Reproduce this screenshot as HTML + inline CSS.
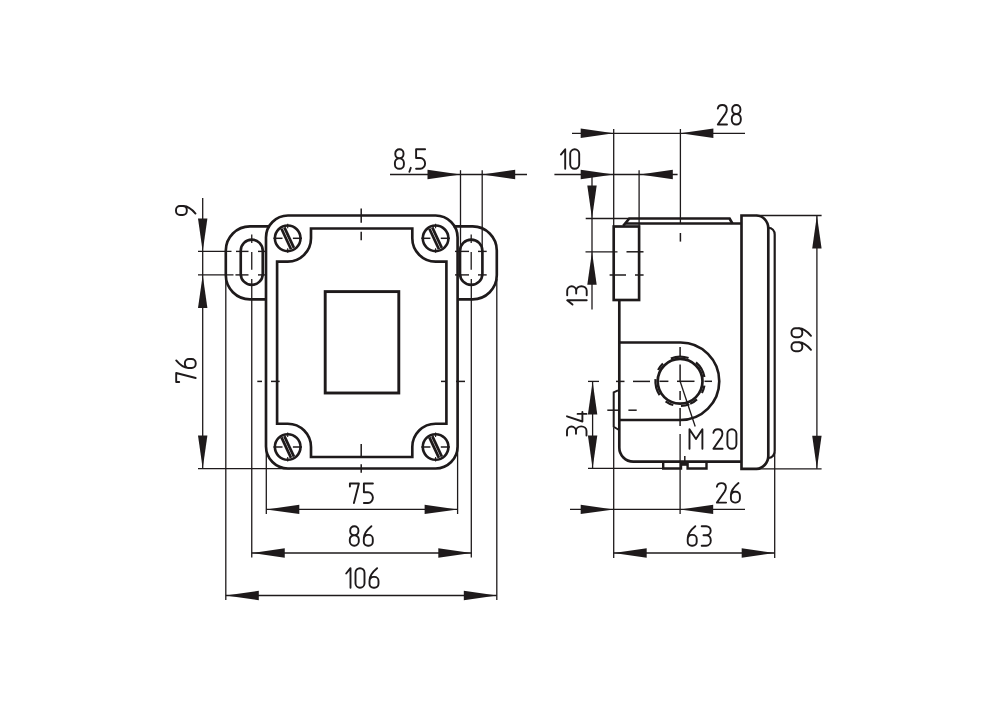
<!DOCTYPE html>
<html><head><meta charset="utf-8"><style>
html,body{margin:0;padding:0;background:#fff;}
body{width:1000px;height:701px;overflow:hidden;font-family:"Liberation Sans",sans-serif;}
svg{display:block;}
</style></head><body>
<svg width="1000" height="701" viewBox="0 0 1000 701">
<g fill="none" stroke="#1e1a1b" stroke-linecap="butt">
<rect x="266" y="215.5" width="191.6" height="253" rx="22" ry="22" stroke-width="2.65"/>
<path d="M277.1,261.6 L287.7,261.6 A23.3,23.3 0 0 0 311.0,238.3 L311.0,228.5 L412.3,228.5 L412.3,238.3 A23.3,23.3 0 0 0 435.6,261.6 L446.4,261.6 L446.4,423.7 L435.6,423.7 A23.3,23.3 0 0 0 412.3,447 L412.3,457 L311.0,457 L311.0,447 A23.3,23.3 0 0 0 287.7,423.7 L277.1,423.7 Z" stroke-width="2.65" />
<circle cx="287.7" cy="238.3" r="12.8" stroke-width="2.6"/>
<line x1="273.4" y1="238.3" x2="282.5" y2="238.3" stroke-width="1.5"/>
<line x1="292.9" y1="238.3" x2="302.0" y2="238.3" stroke-width="1.5"/>
<line x1="287.7" y1="223.8" x2="287.7" y2="228.3" stroke-width="1.1"/>
<line x1="287.7" y1="248.3" x2="287.7" y2="252.8" stroke-width="1.1"/>
<line x1="281.47" y1="228.73" x2="291.03" y2="249.22" stroke-width="2.7"/>
<line x1="284.37" y1="227.38" x2="293.93" y2="247.87" stroke-width="2.7"/>
<circle cx="435.6" cy="238.3" r="12.8" stroke-width="2.6"/>
<line x1="421.3" y1="238.3" x2="430.40000000000003" y2="238.3" stroke-width="1.5"/>
<line x1="440.8" y1="238.3" x2="449.90000000000003" y2="238.3" stroke-width="1.5"/>
<line x1="435.6" y1="223.8" x2="435.6" y2="228.3" stroke-width="1.1"/>
<line x1="435.6" y1="248.3" x2="435.6" y2="252.8" stroke-width="1.1"/>
<line x1="429.37" y1="228.73" x2="438.93" y2="249.22" stroke-width="2.7"/>
<line x1="432.27" y1="227.38" x2="441.83" y2="247.87" stroke-width="2.7"/>
<circle cx="287.7" cy="447" r="12.8" stroke-width="2.6"/>
<line x1="273.4" y1="447" x2="282.5" y2="447" stroke-width="1.5"/>
<line x1="292.9" y1="447" x2="302.0" y2="447" stroke-width="1.5"/>
<line x1="287.7" y1="432.5" x2="287.7" y2="437" stroke-width="1.1"/>
<line x1="287.7" y1="457" x2="287.7" y2="461.5" stroke-width="1.1"/>
<line x1="281.47" y1="437.43" x2="291.03" y2="457.92" stroke-width="2.7"/>
<line x1="284.37" y1="436.08" x2="293.93" y2="456.57" stroke-width="2.7"/>
<circle cx="435.6" cy="447" r="12.8" stroke-width="2.6"/>
<line x1="421.3" y1="447" x2="430.40000000000003" y2="447" stroke-width="1.5"/>
<line x1="440.8" y1="447" x2="449.90000000000003" y2="447" stroke-width="1.5"/>
<line x1="435.6" y1="432.5" x2="435.6" y2="437" stroke-width="1.1"/>
<line x1="435.6" y1="457" x2="435.6" y2="461.5" stroke-width="1.1"/>
<line x1="429.37" y1="437.43" x2="438.93" y2="457.92" stroke-width="2.7"/>
<line x1="432.27" y1="436.08" x2="441.83" y2="456.57" stroke-width="2.7"/>
<rect x="325.2" y="291.6" width="73.6" height="101.4" stroke-width="2.9"/>
<path d="M269.5,226.4 L250.0,226.4 A24.2,24.2 0 0 0 225.8,250.6 L225.8,275.1 A24.2,24.2 0 0 0 250.0,299.3 L266,299.3" stroke-width="2.65" />
<path d="M453.7,226.4 L472.6,226.4 A24.2,24.2 0 0 1 496.8,250.6 L496.8,275.1 A24.2,24.2 0 0 1 472.6,299.3 L457.2,299.3" stroke-width="2.65" />
<rect x="240.75" y="239.6" width="22" height="45.3" rx="11" ry="11" stroke-width="2.65"/>
<line x1="236.0" y1="251.4" x2="248.5" y2="251.4" stroke-width="1.4"/>
<line x1="258.0" y1="251.4" x2="265.0" y2="251.4" stroke-width="1.4"/>
<line x1="235.45" y1="274.9" x2="248.5" y2="274.9" stroke-width="1.4"/>
<line x1="258.0" y1="274.9" x2="265.0" y2="274.9" stroke-width="1.4"/>
<line x1="251.75" y1="234.4" x2="251.75" y2="243" stroke-width="1.3"/>
<line x1="251.75" y1="252.1" x2="251.75" y2="269.8" stroke-width="1.3"/>
<rect x="460.0" y="239.6" width="22.4" height="45.3" rx="11.2" ry="11.2" stroke-width="2.65"/>
<line x1="455.0" y1="251.4" x2="469.0" y2="251.4" stroke-width="1.4"/>
<line x1="478.0" y1="251.4" x2="486.7" y2="251.4" stroke-width="1.4"/>
<line x1="455.0" y1="274.9" x2="469.0" y2="274.9" stroke-width="1.4"/>
<line x1="478.0" y1="274.9" x2="486.7" y2="274.9" stroke-width="1.4"/>
<line x1="471.2" y1="234.4" x2="471.2" y2="243" stroke-width="1.3"/>
<line x1="471.2" y1="252.1" x2="471.2" y2="269.8" stroke-width="1.3"/>
<line x1="198" y1="251.4" x2="231.5" y2="251.4" stroke-width="1.3"/>
<line x1="198" y1="274.9" x2="233.5" y2="274.9" stroke-width="1.3"/>
<line x1="361.2" y1="208.6" x2="361.2" y2="222.7" stroke-width="1.5"/>
<line x1="361.2" y1="231.7" x2="361.2" y2="240.3" stroke-width="1.5"/>
<line x1="361.2" y1="443.9" x2="361.2" y2="457" stroke-width="1.5"/>
<line x1="361.2" y1="464.2" x2="361.2" y2="472.8" stroke-width="1.5"/>
<line x1="257.3" y1="381.4" x2="262" y2="381.4" stroke-width="1.5"/>
<line x1="271" y1="381.4" x2="279.7" y2="381.4" stroke-width="1.5"/>
<line x1="441" y1="381.4" x2="446" y2="381.4" stroke-width="1.5"/>
<line x1="456" y1="381.4" x2="465" y2="381.4" stroke-width="1.5"/>
<line x1="202.7" y1="198" x2="202.7" y2="468.6" stroke-width="1.3"/>
<polygon points="202.7,251.4 198.00,218.40 207.40,218.40" fill="#1e1a1b" stroke="none"/>
<polygon points="202.7,274.9 207.40,307.90 198.00,307.90" fill="#1e1a1b" stroke="none"/>
<polygon points="202.7,468.6 198.00,435.60 207.40,435.60" fill="#1e1a1b" stroke="none"/>
<line x1="198" y1="468.6" x2="290" y2="468.6" stroke-width="1.3"/>
<g transform="translate(175,216) rotate(-90)" stroke-width="1.9" stroke-linecap="round" stroke-linejoin="round"><path transform="translate(0,0)" d="M2.4,20.5 Q9.7,14.5 10,8.5 M10,7.8 A4,4 0 0 1 6,11.8 L5,11.8 A4,4 0 0 1 1,7.8 L1,5 A4,4 0 0 1 5,1 L6,1 A4,4 0 0 1 10,5 Z"/></g>
<g transform="translate(175.2,383) rotate(-90)" stroke-width="1.9" stroke-linecap="round" stroke-linejoin="round"><path transform="translate(0,0)" d="M1,4 L1,1 L10,1 L5,20.5"/><path transform="translate(14,0)" d="M8.6,1 Q1.3,7 1,13 M1,13.7 A4,4 0 0 1 5,9.7 L6,9.7 A4,4 0 0 1 10,13.7 L10,16.5 A4,4 0 0 1 6,20.5 L5,20.5 A4,4 0 0 1 1,16.5 Z"/></g>
<line x1="266.3" y1="447" x2="266.3" y2="514" stroke-width="1.3"/>
<line x1="457.6" y1="447" x2="457.6" y2="514" stroke-width="1.3"/>
<line x1="266.3" y1="509.4" x2="457.6" y2="509.4" stroke-width="1.3"/>
<polygon points="266.3,509.4 299.30,504.70 299.30,514.10" fill="#1e1a1b" stroke="none"/>
<polygon points="457.6,509.4 424.60,514.10 424.60,504.70" fill="#1e1a1b" stroke="none"/>
<g transform="translate(348.9,482.5)" stroke-width="1.9" stroke-linecap="round" stroke-linejoin="round"><path transform="translate(0,0)" d="M1,4 L1,1 L10,1 L5,20.5"/><path transform="translate(14,0)" d="M10,1 L1,1 L1,9.7 L5.2,9.7 A4.8,5.4 0 0 1 5.2,20.5 L1,20.5"/></g>
<line x1="251.75" y1="279" x2="251.75" y2="557.5" stroke-width="1.3"/>
<line x1="471.3" y1="279" x2="471.3" y2="557.5" stroke-width="1.3"/>
<line x1="251.75" y1="553" x2="471.3" y2="553" stroke-width="1.3"/>
<polygon points="251.75,553 284.75,548.30 284.75,557.70" fill="#1e1a1b" stroke="none"/>
<polygon points="471.3,553 438.30,557.70 438.30,548.30" fill="#1e1a1b" stroke="none"/>
<g transform="translate(348.8,525.2)" stroke-width="1.9" stroke-linecap="round" stroke-linejoin="round"><path transform="translate(0,0)" d="M1.4,5 A4,4 0 0 1 5.4,1 L5.6,1 A4,4 0 0 1 9.6,5 L9.6,6 A4,4 0 0 1 5.6,10 L5.4,10 A4,4 0 0 1 1.4,6 Z M1,14.4 A4.4,4.4 0 0 1 5.4,10 L5.6,10 A4.4,4.4 0 0 1 10,14.4 L10,16.1 A4.4,4.4 0 0 1 5.6,20.5 L5.4,20.5 A4.4,4.4 0 0 1 1,16.1 Z"/><path transform="translate(14,0)" d="M8.6,1 Q1.3,7 1,13 M1,13.7 A4,4 0 0 1 5,9.7 L6,9.7 A4,4 0 0 1 10,13.7 L10,16.5 A4,4 0 0 1 6,20.5 L5,20.5 A4,4 0 0 1 1,16.5 Z"/></g>
<line x1="225.8" y1="279" x2="225.8" y2="600" stroke-width="1.3"/>
<line x1="496.8" y1="279" x2="496.8" y2="600" stroke-width="1.3"/>
<line x1="225.8" y1="595.5" x2="496.8" y2="595.5" stroke-width="1.3"/>
<polygon points="225.8,595.5 258.80,590.80 258.80,600.20" fill="#1e1a1b" stroke="none"/>
<polygon points="496.8,595.5 463.80,600.20 463.80,590.80" fill="#1e1a1b" stroke="none"/>
<g transform="translate(340.5,567.2)" stroke-width="1.9" stroke-linecap="round" stroke-linejoin="round"><path transform="translate(0,0)" d="M5.7,6.3 L10,1 L10,20.5"/><path transform="translate(14,0)" d="M1,5.5 A4.5,4.5 0 0 1 10,5.5 L10,16 A4.5,4.5 0 0 1 1,16 Z"/><path transform="translate(28,0)" d="M8.6,1 Q1.3,7 1,13 M1,13.7 A4,4 0 0 1 5,9.7 L6,9.7 A4,4 0 0 1 10,13.7 L10,16.5 A4,4 0 0 1 6,20.5 L5,20.5 A4,4 0 0 1 1,16.5 Z"/></g>
<line x1="460.5" y1="170.2" x2="460.5" y2="252" stroke-width="1.3"/>
<line x1="482.2" y1="170.2" x2="482.2" y2="252" stroke-width="1.3"/>
<line x1="390" y1="174.5" x2="527" y2="174.5" stroke-width="1.3"/>
<polygon points="460.5,174.5 427.50,179.20 427.50,169.80" fill="#1e1a1b" stroke="none"/>
<polygon points="482.2,174.5 515.20,169.80 515.20,179.20" fill="#1e1a1b" stroke="none"/>
<g transform="translate(393.9,148.3)" stroke-width="1.9" stroke-linecap="round" stroke-linejoin="round"><path transform="translate(0,0)" d="M1.4,5 A4,4 0 0 1 5.4,1 L5.6,1 A4,4 0 0 1 9.6,5 L9.6,6 A4,4 0 0 1 5.6,10 L5.4,10 A4,4 0 0 1 1.4,6 Z M1,14.4 A4.4,4.4 0 0 1 5.4,10 L5.6,10 A4.4,4.4 0 0 1 10,14.4 L10,16.1 A4.4,4.4 0 0 1 5.6,20.5 L5.4,20.5 A4.4,4.4 0 0 1 1,16.1 Z"/><path transform="translate(14,0)" d="M2.9,19.5 L1.5,23.5"/><path transform="translate(21.2,0)" d="M10,1 L1,1 L1,9.7 L5.2,9.7 A4.8,5.4 0 0 1 5.2,20.5 L1,20.5"/></g>
<rect x="613.7" y="226.5" width="25.4" height="73.5" stroke-width="2.65"/>
<path d="M623.2,225.8 L629.3,218.5 L729.6,218.5 L732.4,223.5" stroke-width="2.65" />
<path d="M626,223.5 L741.5,223.5" stroke-width="2.65" />
<path d="M619.3,300 L619.3,447.5 A14,14 0 0 0 633.3,461.6 L741.5,461.6" stroke-width="2.65" />
<path d="M618,390.3 L613.7,392.4 L613.7,426.8 L619,430" stroke-width="2.0" />
<path d="M619.3,342.5 L680.6,342.5 A38.6,38.7 0 0 1 680.6,420 L619.3,420" stroke-width="2.65" />
<circle cx="680.1" cy="381.3" r="22.4" stroke-width="2.7"/>
<path d="M670.85,358.40 A24.7,24.7 0 0 1 688.55,358.09" stroke-width="2.2" />
<path d="M658.09,370.09 A24.7,24.7 0 0 1 662.94,363.53" stroke-width="2.2" />
<path d="M659.62,395.11 A24.7,24.7 0 0 1 655.49,379.15" stroke-width="2.2" />
<path d="M695.98,362.38 A24.7,24.7 0 0 1 704.42,377.01" stroke-width="2.2" />
<path d="M704.42,385.59 A24.7,24.7 0 0 1 701.91,392.90" stroke-width="2.2" />
<path d="M696.95,399.36 A24.7,24.7 0 0 1 690.15,403.86" stroke-width="2.2" />
<path d="M689.35,404.20 A24.7,24.7 0 0 1 680.96,405.98" stroke-width="2.2" />
<path d="M673.29,405.04 A24.7,24.7 0 0 1 665.58,401.28" stroke-width="2.2" />
<line x1="588" y1="381.4" x2="599" y2="381.4" stroke-width="1.3"/>
<line x1="616" y1="381.4" x2="624.5" y2="381.4" stroke-width="1.5"/>
<line x1="633" y1="381.4" x2="650" y2="381.4" stroke-width="1.5"/>
<line x1="659.4" y1="381.3" x2="668.4" y2="381.3" stroke-width="1.5"/>
<line x1="677" y1="381.3" x2="694.5" y2="381.3" stroke-width="1.5"/>
<line x1="704.5" y1="381.3" x2="712" y2="381.3" stroke-width="1.5"/>
<line x1="680.1" y1="347" x2="680.1" y2="356.5" stroke-width="1.5"/>
<line x1="680.1" y1="364.5" x2="680.1" y2="381.3" stroke-width="1.5"/>
<line x1="680.1" y1="391" x2="680.1" y2="400" stroke-width="1.5"/>
<line x1="680.1" y1="408" x2="680.1" y2="426" stroke-width="1.5"/>
<line x1="680.1" y1="434" x2="680.1" y2="514" stroke-width="1.3"/>
<line x1="607.3" y1="410.2" x2="619" y2="410.2" stroke-width="1.5"/>
<line x1="628.4" y1="410.2" x2="636.7" y2="410.2" stroke-width="1.5"/>
<line x1="680.1" y1="381.3" x2="695.2" y2="426.5" stroke-width="1.3"/>
<g transform="translate(688.3,428.3)" stroke-width="1.9" stroke-linecap="round" stroke-linejoin="round"><path transform="translate(0,0)" d="M1.2,20.5 L1.2,1 L7.65,10.8 L14.1,1 L14.1,20.5"/></g>
<g transform="translate(712.4,428.3)" stroke-width="1.9" stroke-linecap="round" stroke-linejoin="round"><path transform="translate(0,0)" d="M1,4.6 C1.4,2.3 3.2,1 5.5,1 C8.2,1 10,2.9 10,5.5 C10,7.1 9.4,8.3 8.6,9.6 L1,20.5 L10.2,20.5"/><path transform="translate(14,0)" d="M1,5.5 A4.5,4.5 0 0 1 10,5.5 L10,16 A4.5,4.5 0 0 1 1,16 Z"/></g>
<path d="M741.5,215.5 L756.5,215.5 C762.5,215.5 768.3,221 768.3,228.5 L768.3,456 C768.3,463 762.5,468.8 756.5,468.8 L741.5,468.8 Z" stroke-width="2.65" />
<path d="M768.3,227.8 C772,227.8 774.7,230.5 774.7,234.5 L774.7,451 C774.7,455 772,458 768.3,458" stroke-width="2.2" />
<path d="M663.2,461.6 L663.2,468.5 L681,468.5 L681,461.6" stroke-width="2.4" />
<path d="M687.6,461.6 L687.6,468.5 L706.5,468.5 L706.5,461.6" stroke-width="2.4" />
<rect x="681" y="461" width="6.6" height="4.8" fill="#1e1a1b" stroke="none"/>
<line x1="684.8" y1="456" x2="684.8" y2="461.6" stroke-width="1.5"/>
<line x1="585.5" y1="251.8" x2="617.5" y2="251.8" stroke-width="1.3"/>
<line x1="626.5" y1="251.8" x2="643.5" y2="251.8" stroke-width="1.5"/>
<line x1="609.6" y1="275" x2="626" y2="275" stroke-width="1.5"/>
<line x1="635" y1="275" x2="643.6" y2="275" stroke-width="1.5"/>
<line x1="680.4" y1="129" x2="680.4" y2="223.5" stroke-width="1.3"/>
<line x1="680.4" y1="233" x2="680.4" y2="241.6" stroke-width="1.5"/>
<line x1="613.7" y1="129" x2="613.7" y2="226.5" stroke-width="1.3"/>
<line x1="572" y1="133.3" x2="745" y2="133.3" stroke-width="1.3"/>
<polygon points="613.7,133.3 580.70,138.00 580.70,128.60" fill="#1e1a1b" stroke="none"/>
<polygon points="680.4,133.3 713.40,128.60 713.40,138.00" fill="#1e1a1b" stroke="none"/>
<g transform="translate(716.8,104)" stroke-width="1.9" stroke-linecap="round" stroke-linejoin="round"><path transform="translate(0,0)" d="M1,4.6 C1.4,2.3 3.2,1 5.5,1 C8.2,1 10,2.9 10,5.5 C10,7.1 9.4,8.3 8.6,9.6 L1,20.5 L10.2,20.5"/><path transform="translate(14,0)" d="M1.4,5 A4,4 0 0 1 5.4,1 L5.6,1 A4,4 0 0 1 9.6,5 L9.6,6 A4,4 0 0 1 5.6,10 L5.4,10 A4,4 0 0 1 1.4,6 Z M1,14.4 A4.4,4.4 0 0 1 5.4,10 L5.6,10 A4.4,4.4 0 0 1 10,14.4 L10,16.1 A4.4,4.4 0 0 1 5.6,20.5 L5.4,20.5 A4.4,4.4 0 0 1 1,16.1 Z"/></g>
<line x1="639.1" y1="170.2" x2="639.1" y2="226.5" stroke-width="1.3"/>
<line x1="554.4" y1="174.5" x2="677.6" y2="174.5" stroke-width="1.3"/>
<polygon points="613.7,174.5 580.70,179.20 580.70,169.80" fill="#1e1a1b" stroke="none"/>
<polygon points="639.8,174.5 672.80,169.80 672.80,179.20" fill="#1e1a1b" stroke="none"/>
<g transform="translate(555.2,148.3)" stroke-width="1.9" stroke-linecap="round" stroke-linejoin="round"><path transform="translate(0,0)" d="M5.7,6.3 L10,1 L10,20.5"/><path transform="translate(14,0)" d="M1,5.5 A4.5,4.5 0 0 1 10,5.5 L10,16 A4.5,4.5 0 0 1 1,16 Z"/></g>
<line x1="592" y1="174.5" x2="592" y2="309.4" stroke-width="1.3"/>
<line x1="585.7" y1="218.5" x2="629.3" y2="218.5" stroke-width="1.3"/>
<polygon points="592,218.5 587.30,185.50 596.70,185.50" fill="#1e1a1b" stroke="none"/>
<polygon points="592,251.8 596.70,284.80 587.30,284.80" fill="#1e1a1b" stroke="none"/>
<g transform="translate(566.2,310.3) rotate(-90)" stroke-width="1.9" stroke-linecap="round" stroke-linejoin="round"><path transform="translate(0,0)" d="M5.7,6.3 L10,1 L10,20.5"/><path transform="translate(14,0)" d="M1,1 L5.5,1 A4.5,4.5 0 0 1 5.5,10 L2.8,10 M5.5,10 A4.6,5.25 0 0 1 5.5,20.5 L1,20.5"/></g>
<line x1="592.6" y1="381.3" x2="592.6" y2="468.4" stroke-width="1.3"/>
<line x1="588" y1="468.4" x2="663.2" y2="468.4" stroke-width="1.3"/>
<polygon points="592.6,381.4 597.30,414.40 587.90,414.40" fill="#1e1a1b" stroke="none"/>
<polygon points="592.6,468.4 587.90,435.40 597.30,435.40" fill="#1e1a1b" stroke="none"/>
<g transform="translate(566.0,436.5) rotate(-90)" stroke-width="1.9" stroke-linecap="round" stroke-linejoin="round"><path transform="translate(0,0)" d="M1,1 L5.5,1 A4.5,4.5 0 0 1 5.5,10 L2.8,10 M5.5,10 A4.6,5.25 0 0 1 5.5,20.5 L1,20.5"/><path transform="translate(14,0)" d="M6.2,1 L1,16.4 L10.6,16.4 M8.6,11.6 L8.6,20.5"/></g>
<line x1="756.5" y1="215.5" x2="821.6" y2="215.5" stroke-width="1.3"/>
<line x1="756.5" y1="468.8" x2="821.6" y2="468.8" stroke-width="1.3"/>
<line x1="816.9" y1="215.5" x2="816.9" y2="468.8" stroke-width="1.3"/>
<polygon points="816.9,215.5 821.60,248.50 812.20,248.50" fill="#1e1a1b" stroke="none"/>
<polygon points="816.9,468.8 812.20,435.80 821.60,435.80" fill="#1e1a1b" stroke="none"/>
<g transform="translate(790.5,352.2) rotate(-90)" stroke-width="1.9" stroke-linecap="round" stroke-linejoin="round"><path transform="translate(0,0)" d="M2.4,20.5 Q9.7,14.5 10,8.5 M10,7.8 A4,4 0 0 1 6,11.8 L5,11.8 A4,4 0 0 1 1,7.8 L1,5 A4,4 0 0 1 5,1 L6,1 A4,4 0 0 1 10,5 Z"/><path transform="translate(14,0)" d="M2.4,20.5 Q9.7,14.5 10,8.5 M10,7.8 A4,4 0 0 1 6,11.8 L5,11.8 A4,4 0 0 1 1,7.8 L1,5 A4,4 0 0 1 5,1 L6,1 A4,4 0 0 1 10,5 Z"/></g>
<line x1="613.7" y1="427.5" x2="613.7" y2="558" stroke-width="1.3"/>
<line x1="570" y1="509.4" x2="745" y2="509.4" stroke-width="1.3"/>
<polygon points="613.7,509.4 580.70,514.10 580.70,504.70" fill="#1e1a1b" stroke="none"/>
<polygon points="680.2,509.4 713.20,504.70 713.20,514.10" fill="#1e1a1b" stroke="none"/>
<g transform="translate(715.9,482.1)" stroke-width="1.9" stroke-linecap="round" stroke-linejoin="round"><path transform="translate(0,0)" d="M1,4.6 C1.4,2.3 3.2,1 5.5,1 C8.2,1 10,2.9 10,5.5 C10,7.1 9.4,8.3 8.6,9.6 L1,20.5 L10.2,20.5"/><path transform="translate(14,0)" d="M8.6,1 Q1.3,7 1,13 M1,13.7 A4,4 0 0 1 5,9.7 L6,9.7 A4,4 0 0 1 10,13.7 L10,16.5 A4,4 0 0 1 6,20.5 L5,20.5 A4,4 0 0 1 1,16.5 Z"/></g>
<line x1="774.7" y1="452" x2="774.7" y2="558" stroke-width="1.3"/>
<line x1="613.7" y1="553" x2="774.7" y2="553" stroke-width="1.3"/>
<polygon points="613.7,553 646.70,548.30 646.70,557.70" fill="#1e1a1b" stroke="none"/>
<polygon points="774.7,553 741.70,557.70 741.70,548.30" fill="#1e1a1b" stroke="none"/>
<g transform="translate(686.7,525.2)" stroke-width="1.9" stroke-linecap="round" stroke-linejoin="round"><path transform="translate(0,0)" d="M8.6,1 Q1.3,7 1,13 M1,13.7 A4,4 0 0 1 5,9.7 L6,9.7 A4,4 0 0 1 10,13.7 L10,16.5 A4,4 0 0 1 6,20.5 L5,20.5 A4,4 0 0 1 1,16.5 Z"/><path transform="translate(14,0)" d="M1,1 L5.5,1 A4.5,4.5 0 0 1 5.5,10 L2.8,10 M5.5,10 A4.6,5.25 0 0 1 5.5,20.5 L1,20.5"/></g>
</g>
</svg>
</body></html>
